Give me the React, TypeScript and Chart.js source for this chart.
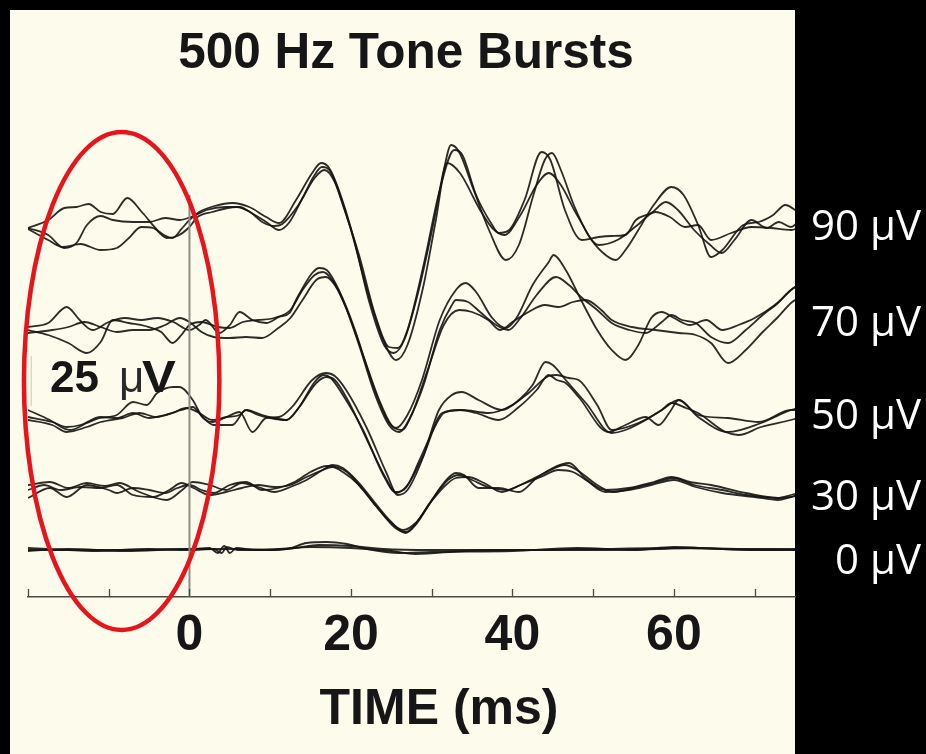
import React, { useEffect, useRef } from 'react';
import { Chart, registerables } from 'chart.js';

Chart.register(...registerables);

const FONT = '"Liberation Sans", Arial, Helvetica, sans-serif';
const TITLE = '500 Hz Tone Bursts';
const X_TITLE = 'TIME (ms)';
const LEVEL_LABELS = ['90 μV', '70 μV', '50 μV', '30 μV', '0 μV'];
// vertical display offset (μV) of each stimulus level's trace group
const LEVEL_OFFSETS = [186, 136, 91, 53.5, 24];
const X_MIN = -20;
const X_MAX = 75;
const X_TICK_STEP = 10;
const X_TICKS_SHOWN = [0, 20, 40, 60];
const Y_MIN = 0;
const Y_MAX = 240;
const STIM_LINE = { t: 0, top: 201 };
const CAL_BAR = { t: -19.6, from: 95.5, to: 120.5 }; // 25 μV bar
const HIGHLIGHT = { t: -8.4, v: 108, halfT: 12.1, halfV: 124.5 };

// ---- 90 μV ----
const T_90A = [-20, -17.5, -15.5, -14, -12.5, -11, -9.5, -7.7, -5.8, -3.7, -2.1, -0.9, 0, 1.2, 3.1, 5.3, 7.4, 9.5, 11.1, 13.2, 15.2, 16.3, 17.3, 18.5, 20.4, 22.2, 24.1, 25.3, 26.6, 28.4, 30.3, 31.5, 32.4, 33.4, 35.2, 37.1, 39.2, 40.8, 42.6, 44, 44.9, 46, 47.6, 49.4, 51.1, 52.8, 54, 55.6, 57.5, 59.7, 61.2, 63, 64.6, 66, 68.6, 70.5, 72.3, 73.8, 75.4];
const V_90A = [-1.5, 2.5, 8.5, 9, 10.5, 6.5, 5.5, 13.5, 6, -3.5, -6.5, -1.5, 2.5, 6.5, 9.5, 11, 9, 4, 1, 12.5, 26, 31, 28.5, 17.5, -7.5, -37.5, -60, -64, -57.5, -32.5, 2.5, 27.5, 40, 36.5, 17.5, -2.5, -17.5, -10, 15, 32.5, 36, 27.5, 10, -5, -13.5, -17.5, -12.5, -2.5, 10, 19, 15, 0, -16, -12.5, 0, 1.5, 5, 10, 6.5];
const T_90B = [-20, -17.5, -15.5, -14, -12.7, -11, -9.5, -7, -5, -3, -1.2, 0.5, 2.1, 4.5, 6.2, 7.5, 9.5, 11.1, 12.4, 14, 15.5, 16.4, 17.5, 19, 21, 23, 24.7, 25.8, 27, 29, 31, 32.8, 33.8, 35.5, 37.5, 38.3, 39.6, 41.5, 43.6, 44.7, 46.5, 48.6, 50.7, 52.3, 54, 55.3, 57.2, 59, 60.5, 62.5, 64.5, 65.9, 67.5, 69.6, 71.5, 73, 74.5, 75.4];
const V_90B = [-1.5, -5, -11.5, -9, 0, 4.5, 2.5, 1.5, 1.5, 3.5, 2.5, 4.5, 7.5, 9, 9, 6.5, 1.5, -2.5, 1.5, 13.5, 25, 29, 26.5, 10, -15, -45, -61, -61.5, -52.5, -20, 17.5, 37.5, 35, 15, 0, -4, -2.5, 12.5, 36.5, 32.5, 7.5, -7.5, -6, -5.5, -5, 2.5, 6, 11.5, 7.5, -2.5, -10, -14, -7.5, 2.5, -1.5, 1.5, -1, 1.5];
const T_90C = [-20, -17.5, -15.7, -13.5, -11, -9, -7.5, -6, -4.5, -2.8, -1.5, 0, 1, 2.8, 5.8, 7.5, 9, 10.5, 11.5, 13.5, 15.5, 16.7, 18, 20, 22, 24, 25.6, 27, 29, 30.5, 31.9, 33.5, 36, 37.5, 39, 41, 43, 44.5, 46, 48, 50.7, 53, 55.5, 57.7, 59.5, 61.4, 63, 64.6, 67.1, 69.6, 72, 74.5, 75.4];
const V_90C = [-2, -7.5, -11, -9.5, -12.5, -11.5, -6.5, -1, -1.5, -6.5, -5.5, -1, 4, 6.5, 9, 6.5, 1.5, -0.5, 0.5, 10, 23.5, 27.5, 21.5, -2.5, -32.5, -57.5, -67.5, -60, -30, 2, 31, 26, 7.5, -1.5, -5, 5, 20, 26, 20, 5, -10, -7.5, 0, 6.5, 4, -1, 0, -7.5, -4, -1, -1.5, -2.5, -1.5];

// ---- 70 μV ----
const T_70A = [-20, -17.5, -15.2, -13.6, -12, -10, -8, -6, -4, -2, 0, 1.2, 2, 3.7, 5, 6.2, 7.8, 9.5, 11.1, 12.4, 13.2, 15.2, 16.1, 17, 18.5, 20.5, 22.5, 24.5, 25.6, 27, 28.8, 31, 33, 34.2, 35.5, 37.5, 39.2, 40.5, 42.5, 44.5, 45.1, 46.6, 48.5, 50.5, 52.3, 54, 55.6, 57.2, 58.5, 60, 62, 64, 66, 68, 70, 72.5, 74.5, 75.4];
const V_70A = [-1, 1, 9, 2.5, -2.5, 1.5, 3.5, 2.5, 3.5, 1.5, -2.5, 0, 2.5, -4, 0, 6.5, 2.5, 1, 4, 6, 12.5, 26, 28.5, 27.5, 17.5, -2.5, -27.5, -47.5, -51.5, -45, -27.5, 2.5, 17.5, 21, 16.5, 3.5, -1.5, 3.5, 20, 31.5, 35, 27.5, 12.5, -2.5, -12.5, -17.5, -10, 3.5, 6.5, 3.5, 0, 2.5, -2.5, 0, 3.5, 10, 17.5, 20];
const T_70B = [-20, -17.5, -15, -12.7, -11, -9.5, -7.5, -5.5, -3.5, -2.1, -1, 0, 1.5, 3.5, 5, 6.6, 8.5, 10.5, 12.5, 14, 15.5, 16.5, 17.5, 19, 21, 23, 24.7, 26, 27.3, 29, 31, 32.5, 33, 34.5, 36, 38, 39.5, 41, 43, 45.4, 47, 48.5, 50.5, 52.3, 54.5, 56.5, 58.5, 59.7, 61, 62.7, 64.6, 66.7, 68.9, 71, 72.9, 74.5, 75.4];
const V_70B = [-2.5, -5, -9, -14, -8.5, 2.5, 1, -0.5, -3.5, -9, -5, 0, 1.5, -1, -1.5, 1.5, 2.5, 3.5, 7.5, 17.5, 25, 26.5, 23.5, 12.5, -10, -35, -50, -53.5, -46.5, -30, -2.5, 10, 12.5, 11.5, 6.5, 0, -2.5, 3.5, 15, 24, 20, 14, 7.5, 1, -2.5, -4, 1.5, 5, 2.5, 1, -6, -9, -2.5, 5, 11, 17.5, 20];
const T_70C = [-20, -17, -15, -13, -11, -9, -7, -5, -3, -1.2, 0, 1.5, 3, 5, 7, 9, 11, 12.5, 14, 15.7, 16.9, 18, 19.5, 21.5, 23.5, 25, 26.3, 27.5, 29.5, 31.5, 33.4, 35, 37, 38.5, 40, 42, 44, 45.7, 47.5, 49.1, 51, 52.3, 54.8, 57.7, 60.6, 62.7, 64.6, 66.7, 68.9, 71, 72.9, 74.5, 75.4];
const V_70C = [-4, -2.5, -1, 1.5, -1, -3.5, -2.5, -2.5, 0, 3.5, 1.5, -3.5, -6, -6.5, -6, -6.5, -1.5, 3.5, 12.5, 22.5, 24, 20, 7.5, -15, -37.5, -50, -52.5, -45, -22.5, 0, 7.5, 6.5, 2.5, -2.5, 1.5, 6.5, 10, 9, 11.5, 12.5, 7.5, 2.5, -1, -2.5, -4, -5, -9, -19, -12.5, -3.5, 4, 11, 13.5];

// ---- 50 μV ----
const T_50A = [-20, -17.3, -14.8, -12.7, -11.1, -9, -7, -5.3, -4, -2, -1.2, 0.4, 1.6, 2.8, 4.6, 6.2, 7.8, 9.5, 11.1, 12.7, 15.2, 16.9, 18, 19.4, 21.9, 24.4, 25.8, 27, 28.8, 30.9, 32.5, 33.7, 35.8, 38.7, 40.8, 42.5, 44.1, 45, 46.6, 49.1, 52.3, 54, 56.5, 58.5, 60.6, 63, 66.7, 70.8, 74.5, 75.4];
const V_50A = [2.5, -2.5, -7.5, -4, -1.5, 0, 6.5, 5, 11, 14, 14, 7.5, -1, -3.5, -1, 1.5, -8.5, -1.5, -1, 4, 17.5, 21, 19.5, 12.5, -6, -29, -40, -37.5, -22.5, 2.5, 10, 11.5, 7.5, 2.5, 7.5, 15, 26.5, 25, 17.5, 6, -9, -7.5, -2.5, 2.5, 7.5, -1, -8.5, -4, 2.5, 3.5];
const T_50B = [-20, -17, -15.2, -13.5, -11, -9, -7, -5, -3, -1, 0.4, 1.6, 3, 5.3, 7, 9, 10.5, 12, 13.6, 15.5, 16.6, 17.5, 19, 21.5, 24, 25.5, 26.8, 28.5, 30.5, 31.5, 33.5, 35.5, 38.3, 40.8, 43, 44.5, 45.5, 46.6, 48.2, 51.9, 54, 56.5, 58.1, 59.5, 60.6, 63, 66.7, 70.5, 74.5, 75.4];
const V_50B = [-1, -3.5, -6, -5, -1, -1.5, 1, -1.5, 0, 2.5, 4, -1, -5, -5, 2.5, 0, -1.5, -2.5, 4, 16.5, 20, 18.5, 10, -7.5, -30, -38.5, -36.5, -22.5, -5, 1, 2.5, 1, -2.5, 4, 12.5, 20, 17.5, 16, 9, -8.5, -5, -1, -5, 1.5, 7.5, 0, -1.5, -3.5, 2.5, 2.5];
const T_50C = [-20, -17, -15.2, -12.7, -11, -8.3, -6.2, -4.1, -2.1, -0.4, 1, 2.8, 4.6, 6.2, 7, 8.5, 10, 12, 13.6, 15.7, 17, 18, 19.6, 22, 24.3, 25.6, 27, 29, 31.3, 33.7, 37.1, 40, 42, 44.5, 45.5, 47, 48.2, 50.5, 52.3, 55.6, 58.5, 59.7, 61.5, 63, 66.4, 68, 70.8, 74.5, 75.4];
const V_50C = [-2.5, -5, -8.5, -6, -3.5, -1.5, 1, -1, 1, 3.5, 1.5, -2.5, -1, 0, 2.5, 0, -1.5, -2.5, 4, 16, 19, 17.5, 7.5, -12.5, -31.5, -39, -35, -20, 1, 2.5, 1, 5, 11, 19.5, 20, 18.5, 17.5, 5, -7.5, -4, 2.5, 6, 3.5, 1, -8.5, -10, -6, -2.5, -1.5];

// ---- 30 μV ----
const T_30A = [-20, -17.3, -15, -12.7, -10.5, -8.7, -6.2, -2.8, -0.9, 0.4, 2.5, 4.5, 6.5, 8.5, 10.5, 12.5, 14.5, 16.5, 17.7, 19, 21, 23, 25, 26.8, 28, 29.5, 31.5, 33, 34, 35.8, 38.3, 40.8, 43, 45, 47, 49.1, 51.5, 54.4, 57.5, 59.7, 62, 64.6, 68.9, 72.9, 74.5, 75.4];
const V_30A = [2.5, 4, 1, 3.5, 2, 3.5, -1, -5, 0, 4, 2.5, 0, 3.5, 1.5, -1, 1.5, 5, 10, 12.5, 11, 3.5, -6.5, -16, -21.5, -17.5, -8.5, 3.5, 8.5, 7.5, 1, 1, -1, 6, 11, 13.5, 5.5, 0, 1, 4, 6.5, 4, 2.5, -1.5, -4, -2.5, -1.5];
const T_30B = [-20, -17.3, -15.2, -12.7, -10, -9, -7, -5, -3, -1.5, 0, 1.5, 3, 5, 7, 9, 11, 13, 15, 17, 18.2, 19.5, 21.5, 23.5, 25.5, 26.8, 28.2, 30, 32, 33.4, 35, 37, 39.2, 41.5, 44, 46.5, 48, 50.5, 52.5, 55, 57.5, 60, 62.5, 66, 69, 72.9, 74.5, 75.4];
const V_30B = [-4, 1, -3.5, 2.5, 0, -1.5, 1, 0, -1.5, 1, 2.5, 0, -1.5, 2.5, 4, 0, 1, 4, 9, 12, 11.5, 9, 0, -10, -19, -21, -16, -5, 5, 7.5, 5, 1.5, 0, 3.5, 8.5, 12.5, 10, 2.5, -1, 1, 3.5, 6, 2.5, 0, -2.5, -4, -3.5, -2.5];
const T_30C = [-20, -18, -16, -13.5, -11, -9, -7, -4.5, -2.5, -1, 0.5, 2.5, 4.5, 6.5, 8.5, 10.5, 12.5, 14.5, 16.5, 17.7, 19, 21, 23, 25, 26.5, 28, 29.8, 31.5, 33, 34.5, 36.5, 38.7, 41, 43.5, 45.7, 47.5, 49.1, 51.5, 54.4, 57.2, 60, 62.7, 66, 70, 72.9, 74.5, 75.4];
const V_30C = [0, 2.5, 0, 1.5, 1, 2.5, -2.5, -3.5, 0, 3.5, 1, -2.5, -1, 1, 2.5, 1.5, 2.5, 6.5, 10, 11.5, 9, 2.5, -7.5, -16.5, -20, -16.5, -6.5, 1.5, 6, 6.5, 3.5, -1, 2.5, 6.5, 10, 9, 5, -1, 0, 2.5, 5, 1.5, -1.5, -3.5, -5, -3.5, -2.5];

// ---- 0 μV ----
const T_0A = [-20, -10, 0, 2.5, 3.5, 4.3, 5, 5.8, 8, 13, 16, 20, 24, 30, 40, 50, 60, 70, 75.4];
const V_0A = [-0.5, -0.5, 0, 0.5, -2, 1.5, -2, 0.5, -0.5, 0.5, 2, 1.5, 0, -0.5, -0.5, 0, 0.5, 0, 0];
const T_0B = [-20, -12, -5, 0, 3, 4, 4.6, 6, 12, 14.5, 17, 19.5, 22, 26, 30, 40, 48, 55, 60, 66, 75.4];
const V_0B = [0.5, -1, 0, -0.5, 0, -2, 1, -0.5, 0, 3, 3.5, 2.5, 0, -2, -1.5, -1, 0.5, -0.5, 1, 0, -0.5];
const T_0C = [-20, -15, -8, 0, 6, 10, 15, 20, 25, 28, 34, 42, 50, 58, 62, 70, 75.4];
const V_0C = [-1, 0, -1, 0, 0, -0.5, 1, 0.5, -1, -2.5, -1, -0.5, -0.5, 0, 0.5, -0.5, -0.5];

const TRACES = [
  { level: 0, t: T_90A, v: V_90A }, { level: 0, t: T_90B, v: V_90B }, { level: 0, t: T_90C, v: V_90C },
  { level: 1, t: T_70A, v: V_70A }, { level: 1, t: T_70B, v: V_70B }, { level: 1, t: T_70C, v: V_70C },
  { level: 2, t: T_50A, v: V_50A }, { level: 2, t: T_50B, v: V_50B }, { level: 2, t: T_50C, v: V_50C },
  { level: 3, t: T_30A, v: V_30A }, { level: 3, t: T_30B, v: V_30B }, { level: 3, t: T_30C, v: V_30C },
  { level: 4, t: T_0A, v: V_0A }, { level: 4, t: T_0B, v: V_0B }, { level: 4, t: T_0C, v: V_0C },
];

// layout (pixels)
const PANEL = { left: 10, top: 10, right: 795 };
const LABEL_BASELINES = [240, 336, 429, 510, 574];

const decorPlugin = {
  id: 'decor',
  beforeDraw(chart: any) {
    const { ctx, width, height } = chart;
    ctx.save();
    ctx.fillStyle = '#000000';
    ctx.fillRect(0, 0, width, height);
    ctx.fillStyle = '#fdfbeb';
    ctx.fillRect(PANEL.left, PANEL.top, PANEL.right - PANEL.left, height - PANEL.top);
    ctx.restore();
  },
  afterDraw(chart: any) {
    const { ctx, chartArea } = chart;
    const xs = chart.scales.x;
    const ys = chart.scales.y;
    ctx.save();
    // upward tick marks
    ctx.strokeStyle = '#4a4a46';
    ctx.lineWidth = 1.3;
    ctx.beginPath();
    for (let t = X_MIN; t <= X_MAX; t += X_TICK_STEP) {
      const px = Math.round(xs.getPixelForValue(t)) + 0.5;
      ctx.moveTo(px, chartArea.bottom);
      ctx.lineTo(px, chartArea.bottom - 8);
    }
    ctx.stroke();

    // title
    ctx.fillStyle = '#161616';
    ctx.textBaseline = 'alphabetic';
    ctx.textAlign = 'center';
    ctx.font = `bold 49.5px ${FONT}`;
    ctx.fillText(TITLE, 406, 68);

    // x axis title
    ctx.font = `bold 50px ${FONT}`;
    ctx.fillText(X_TITLE, 439, 724);

    // 25 μV scale label
    ctx.textAlign = 'left';
    ctx.font = `bold 44px ${FONT}`;
    ctx.fillText('25', 50, 392);
    ctx.font = `44px ${FONT}`;
    ctx.fillStyle = '#2a2a2a';
    ctx.fillText('μ', 119, 392);
    ctx.fillStyle = '#161616';
    ctx.save();
    ctx.translate(142, 392);
    ctx.scale(1.15, 1);
    ctx.font = `bold 44px ${FONT}`;
    ctx.fillText('V', 0, 0);
    ctx.restore();

    // level labels
    ctx.fillStyle = '#ffffff';
    ctx.textAlign = 'right';
    ctx.font = `42px "Open Sans", "Noto Sans", sans-serif`;
    LEVEL_LABELS.forEach((lab, i) => ctx.fillText(lab, 921, LABEL_BASELINES[i]));

    // red highlight ellipse
    const cx = xs.getPixelForValue(HIGHLIGHT.t);
    const cy = ys.getPixelForValue(HIGHLIGHT.v);
    const rx = xs.getPixelForValue(HIGHLIGHT.t + HIGHLIGHT.halfT) - cx;
    const ry = cy - ys.getPixelForValue(HIGHLIGHT.v + HIGHLIGHT.halfV);
    ctx.strokeStyle = '#e8141b';
    ctx.lineWidth = 4.5;
    ctx.beginPath();
    ctx.ellipse(cx, cy, rx, ry, 0, 0, Math.PI * 2);
    ctx.stroke();
    ctx.restore();
  },
};

export default function App() {
  const ref = useRef<HTMLCanvasElement>(null);
  useEffect(() => {
    document.body.style.margin = '0';
    const canvas = ref.current;
    if (!canvas) return;
    const datasets: any[] = [
      {
        data: [{ x: STIM_LINE.t, y: Y_MIN }, { x: STIM_LINE.t, y: STIM_LINE.top }],
        borderColor: '#8d8d85',
        borderWidth: 2,
        pointRadius: 0,
      },
      {
        data: [{ x: CAL_BAR.t, y: CAL_BAR.from }, { x: CAL_BAR.t, y: CAL_BAR.to }],
        borderColor: 'rgba(110,110,100,0.35)',
        borderWidth: 1,
        pointRadius: 0,
      },
      ...TRACES.map((tr) => ({
        data: tr.t.map((t, i) => ({ x: t, y: tr.v[i] + LEVEL_OFFSETS[tr.level] })),
        borderColor: 'rgba(20,20,18,0.9)',
        borderWidth: 1.8,
        pointRadius: 0,
        cubicInterpolationMode: 'monotone',
      })),
    ];
    const chart = new Chart(canvas, {
      type: 'line',
      data: { datasets },
      options: {
        animation: false,
        responsive: false,
        events: [],
        layout: { padding: { left: 28, right: 131, top: 117, bottom: 0 } },
        plugins: {
          legend: { display: false },
          tooltip: { enabled: false },
          title: { display: false },
        },
        scales: {
          x: {
            type: 'linear',
            min: X_MIN,
            max: X_MAX,
            afterFit: (s: any) => {
              s.height = 157;
            },
            grid: { display: false },
            border: { display: true, color: '#4a4a46', width: 1.5 },
            ticks: {
              stepSize: X_TICK_STEP,
              autoSkip: false,
              maxRotation: 0,
              includeBounds: false,
              padding: 1,
              color: '#161616',
              font: { family: FONT, size: 50, weight: 'bold' },
              callback: (v: any) => (X_TICKS_SHOWN.includes(Number(v)) ? String(v) : ''),
            },
          },
          y: { type: 'linear', min: Y_MIN, max: Y_MAX, display: false },
        },
      } as any,
      plugins: [decorPlugin],
    });
    return () => chart.destroy();
  }, []);
  return (
    <div style={{ position: 'absolute', left: 0, top: 0, width: 926, height: 754, background: '#000' }}>
      <canvas ref={ref} width={926} height={754} style={{ display: 'block', width: 926, height: 754 }} />
    </div>
  );
}
